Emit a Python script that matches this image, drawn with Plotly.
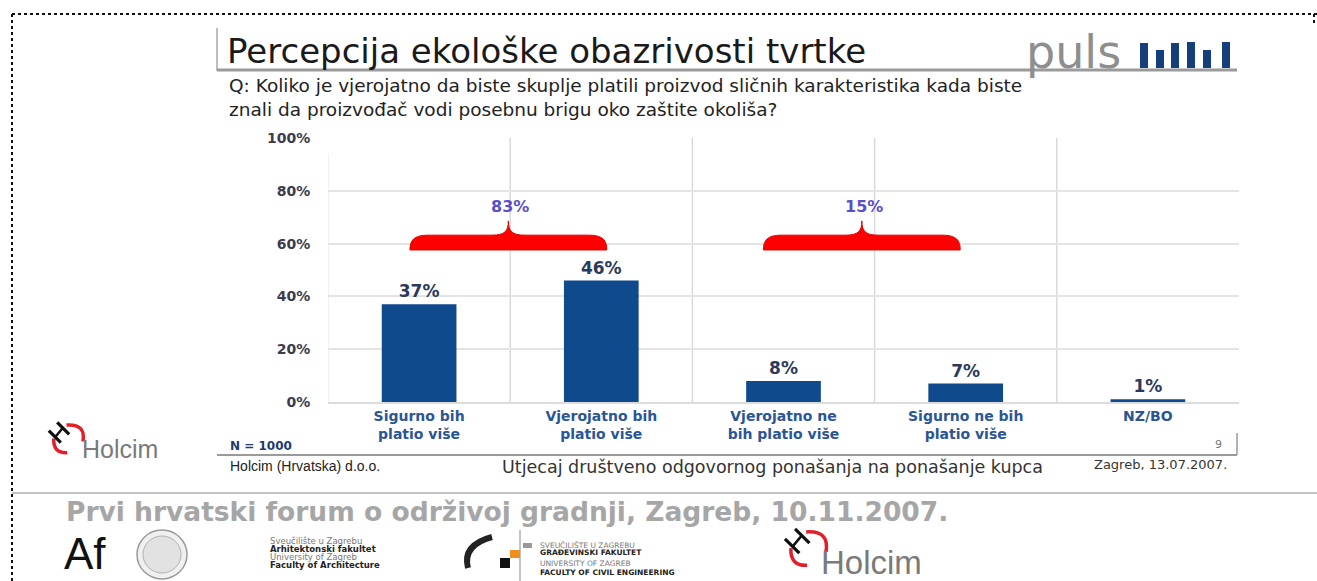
import plotly.graph_objects as go

# ---------------- data ----------------
categories = ["Sigurno bih<br>platio više", "Vjerojatno bih<br>platio više",
              "Vjerojatno ne<br>bih platio više", "Sigurno ne bih<br>platio više", "NZ/BO"]
values = [37, 46, 8, 7, 1]
group_labels = ["83%", "15%"]
y_ticks = [0, 20, 40, 60, 80, 100]
y_tick_labels = ["0%", "20%", "40%", "60%", "80%", "100%"]

# ---------------- layout geometry ----------------
W, H = 1317, 581
ML, MR, MT, MB = 328, 78, 138, 179
PW = W - ML - MR
PH = H - MT - MB
WIDE = "DejaVu Sans"


def px(x):
    return (x - ML) / PW


def py(y):
    return (H - MB - y) / PH


BAR = "#0e4a8c"
xs = list(range(len(categories)))

fig = go.Figure()
fig.add_trace(go.Bar(
    x=xs, y=values, width=0.41, marker=dict(color=BAR, line=dict(width=0)),
    text=[f"<b>{v}%</b>" for v in values], textposition="outside",
    textfont=dict(family=WIDE, size=17, color="#2b3a5c"),
    cliponaxis=False, hoverinfo="skip"))

shapes = []
annotations = []

# vertical separators between categories
for b in [0.5, 1.5, 2.5, 3.5]:
    shapes.append(dict(type="line", xref="x", yref="y", x0=b, x1=b, y0=0, y1=100,
                       line=dict(color="#d9d9d9", width=1.5), layer="below"))
shapes.append(dict(type="line", xref="x", yref="y", x0=-0.5, x1=-0.5, y0=0, y1=94,
                   line=dict(color="#ececec", width=1.5), layer="below"))

# red braces (group summaries)
brace_spans = [(-0.05, 1.03, 0.49), (1.89, 2.97, 2.43)]
yb, yt, yp = 57.6, 63.2, 68.6
for (x0, x1, xc), lab in zip(brace_spans, group_labels):
    path = (f"M {x0},{yb} C {x0},{yt-2} {x0+0.02},{yt} {x0+0.1},{yt} "
            f"L {xc-0.09},{yt} C {xc-0.02},{yt} {xc},{yt+1.5} {xc},{yp} "
            f"C {xc},{yt+1.5} {xc+0.02},{yt} {xc+0.09},{yt} "
            f"L {x1-0.1},{yt} C {x1-0.02},{yt} {x1},{yt-2} {x1},{yb} Z")
    shapes.append(dict(type="path", xref="x", yref="y", path=path,
                       fillcolor="#ff0000", line=dict(color="#e00000", width=1)))
    annotations.append(dict(xref="x", yref="y", x=xc + 0.01, y=74.2, text=f"<b>{lab}</b>",
                            showarrow=False, font=dict(family=WIDE, size=16, color="#5a4fc8")))

# ---------------- slide decorations ----------------
# dotted border
shapes.append(dict(type="line", xref="paper", yref="paper", x0=px(12), x1=px(1317),
                   y0=py(14), y1=py(14), line=dict(color="#111", width=2, dash="dot")))
shapes.append(dict(type="line", xref="paper", yref="paper", x0=px(12), x1=px(12),
                   y0=py(14), y1=py(581), line=dict(color="#111", width=2, dash="dot")))
shapes.append(dict(type="line", xref="paper", yref="paper", x0=px(1314), x1=px(1314),
                   y0=py(14), y1=py(24), line=dict(color="#111", width=2, dash="dot")))
# slide separator
shapes.append(dict(type="line", xref="paper", yref="paper", x0=px(12), x1=px(1317),
                   y0=py(493), y1=py(493), line=dict(color="#c4c4c4", width=2)))

# title frame
shapes.append(dict(type="line", xref="paper", yref="paper", x0=px(217), x1=px(217),
                   y0=py(28), y1=py(71), line=dict(color="#a8a8a8", width=1.5)))
shapes.append(dict(type="line", xref="paper", yref="paper", x0=px(217), x1=px(1237),
                   y0=py(70), y1=py(70), line=dict(color="#9a9a9a", width=3)))

# puls logo bars
bar_spec = [(1140, 43), (1156, 50), (1171, 43), (1187, 42), (1203, 50), (1222, 42)]
for xb, ytop in bar_spec:
    shapes.append(dict(type="rect", xref="paper", yref="paper", x0=px(xb), x1=px(xb + 8),
                       y0=py(68), y1=py(ytop), fillcolor="#143f7a", line=dict(width=0)))

# footer lines
shapes.append(dict(type="line", xref="paper", yref="paper", x0=px(217), x1=px(1237),
                   y0=py(455), y1=py(455), line=dict(color="#9a9a9a", width=2)))
shapes.append(dict(type="line", xref="paper", yref="paper", x0=px(1237), x1=px(1237),
                   y0=py(433), y1=py(455), line=dict(color="#9a9a9a", width=1.5)))


def holcim_logo(cx, cy, r, text_x, text_y, size):
    # red arcs of the ring
    shapes.append(dict(type="path", xref="paper", yref="paper",
                       path=(f"M {px(cx - r*0.1)},{py(cy - r)} "
                             f"Q {px(cx + r*1.2)},{py(cy - r*1.1)} {px(cx + r*1.0)},{py(cy + r*0.1)} "),
                       line=dict(color="#e0202a", width=3.5)))
    shapes.append(dict(type="path", xref="paper", yref="paper",
                       path=(f"M {px(cx - r*0.95)},{py(cy - r*0.1)} "
                             f"Q {px(cx - r*1.0)},{py(cy + r*0.9)} {px(cx - r*0.05)},{py(cy + r*0.85)} "),
                       line=dict(color="#e0202a", width=3.5)))
    # black tilted H: two parallel legs and a crossbar
    for d in (-0.28, 0.28):
        shapes.append(dict(type="line", xref="paper", yref="paper",
                           x0=px(cx - r*1.0 + d*r), y0=py(cy - r*0.9 - d*r),
                           x1=px(cx - r*0.2 + d*r), y1=py(cy - r*0.1 - d*r),
                           line=dict(color="#111", width=3.2)))
    shapes.append(dict(type="line", xref="paper", yref="paper",
                       x0=px(cx - r*0.85), y0=py(cy - r*0.2),
                       x1=px(cx - r*0.35), y1=py(cy - r*0.8),
                       line=dict(color="#111", width=2.5)))
    annotations.append(dict(xref="paper", yref="paper", x=px(text_x), y=py(text_y),
                            xanchor="left", yanchor="middle", showarrow=False, text="Holcim",
                            font=dict(family="Arial", size=size, color="#7a7a7a")))


holcim_logo(68, 440, 15, 80, 449, 25)
holcim_logo(808, 550, 18, 819, 562, 33)

# Af seal
shapes.append(dict(type="circle", xref="paper", yref="paper", x0=px(137), x1=px(187),
                   y0=py(530), y1=py(579), line=dict(color="#9a9a9a", width=1.5),
                   fillcolor="#f0f0f0"))
shapes.append(dict(type="circle", xref="paper", yref="paper", x0=px(143), x1=px(181),
                   y0=py(536), y1=py(573), line=dict(color="#b0b0b0", width=1),
                   fillcolor="#e2e2e2"))
# GF logo
shapes.append(dict(type="path", xref="paper", yref="paper",
                   path=f"M {px(492)},{py(537)} Q {px(462)},{py(545)} {px(468)},{py(568)}",
                   line=dict(color="#222", width=6)))
shapes.append(dict(type="line", xref="paper", yref="paper", x0=px(520), x1=px(520),
                   y0=py(530), y1=py(581), line=dict(color="#888", width=1)))
shapes.append(dict(type="rect", xref="paper", yref="paper", x0=px(523), x1=px(532),
                   y0=py(548), y1=py(543), fillcolor="#999", line=dict(width=0)))
shapes.append(dict(type="rect", xref="paper", yref="paper", x0=px(510), x1=px(520),
                   y0=py(558), y1=py(550), fillcolor="#f0901e", line=dict(width=0)))
shapes.append(dict(type="rect", xref="paper", yref="paper", x0=px(500), x1=px(510),
                   y0=py(568), y1=py(558), fillcolor="#111", line=dict(width=0)))


def txt(x, y, s, size, color="#222", bold=False, family=WIDE, xanchor="left", align="left"):
    annotations.append(dict(xref="paper", yref="paper", x=px(x), y=py(y), xanchor=xanchor,
                            yanchor="middle", showarrow=False, align=align,
                            text=f"<b>{s}</b>" if bold else s,
                            font=dict(family=family, size=size, color=color)))


txt(225, 51, "Percepcija ekološke obazrivosti tvrtke", 34, "#1a1a1a")
txt(1024, 52, "puls", 46, "#8e8e8e")
txt(227, 97, "Q: Koliko je vjerojatno da biste skuplje platili proizvod sličnih karakteristika kada biste"
    "<br>znali da proizvođač vodi posebnu brigu oko zaštite okoliša?", 18.5, "#222")
txt(228, 446, "N = 1000", 12, "#1f3a6e", bold=True)
txt(1218, 444, "9", 11, "#777", xanchor="center")
txt(228, 466, "Holcim (Hrvatska) d.o.o.", 14, "#222", family="Arial")
txt(500, 467, "Utjecaj društveno odgovornog ponašanja na ponašanje kupca", 17.5, "#333")
txt(1092, 464, "Zagreb, 13.07.2007.", 13, "#333")
txt(64, 511, "Prvi hrvatski forum o održivoj gradnji, Zagreb, 10.11.2007.", 26.5, "#a6a6a6", bold=True)
txt(62, 553, "Af", 44, "#111", family="Arial")
txt(268, 541, "Sveučilište u Zagrebu", 8.5, "#777")
txt(268, 549, "Arhitektonski fakultet", 8.5, "#222", bold=True)
txt(268, 557, "University of Zagreb", 8.5, "#777")
txt(268, 565, "Faculty of Architecture", 8.5, "#222", bold=True)
txt(538, 545, "SVEUČILIŠTE U ZAGREBU", 7.5, "#777")
txt(538, 552, "GRAĐEVINSKI FAKULTET", 7.5, "#222", bold=True)
txt(538, 563, "UNIVERSITY OF ZAGREB", 7.5, "#777")
txt(538, 572, "FACULTY OF CIVIL ENGINEERING", 7.5, "#222", bold=True)

fig.update_layout(
    width=W, height=H, margin=dict(l=ML, r=MR, t=MT, b=MB),
    paper_bgcolor="white", plot_bgcolor="white", showlegend=False,
    font=dict(family=WIDE),
    xaxis=dict(range=[-0.5, 4.5], tickvals=xs, ticktext=[f"<b>{c}</b>" for c in categories],
               tickfont=dict(family=WIDE, size=14, color="#2a5596"), showgrid=False, zeroline=False,
               showline=True, linecolor="#dcdcdc", linewidth=1.5, ticks=""),
    yaxis=dict(range=[0, 100], tickvals=y_ticks, ticktext=[f"<b>{t}</b>" for t in y_tick_labels],
               tickfont=dict(family=WIDE, size=14, color="#3c3c4c"), showgrid=True, gridcolor="#e4e4e4",
               gridwidth=1.5, zeroline=False, ticks="outside", ticklen=14, tickcolor="white",
               showline=False),
    shapes=shapes, annotations=annotations, bargap=0.59,
)

fig.write_html("out.html")
